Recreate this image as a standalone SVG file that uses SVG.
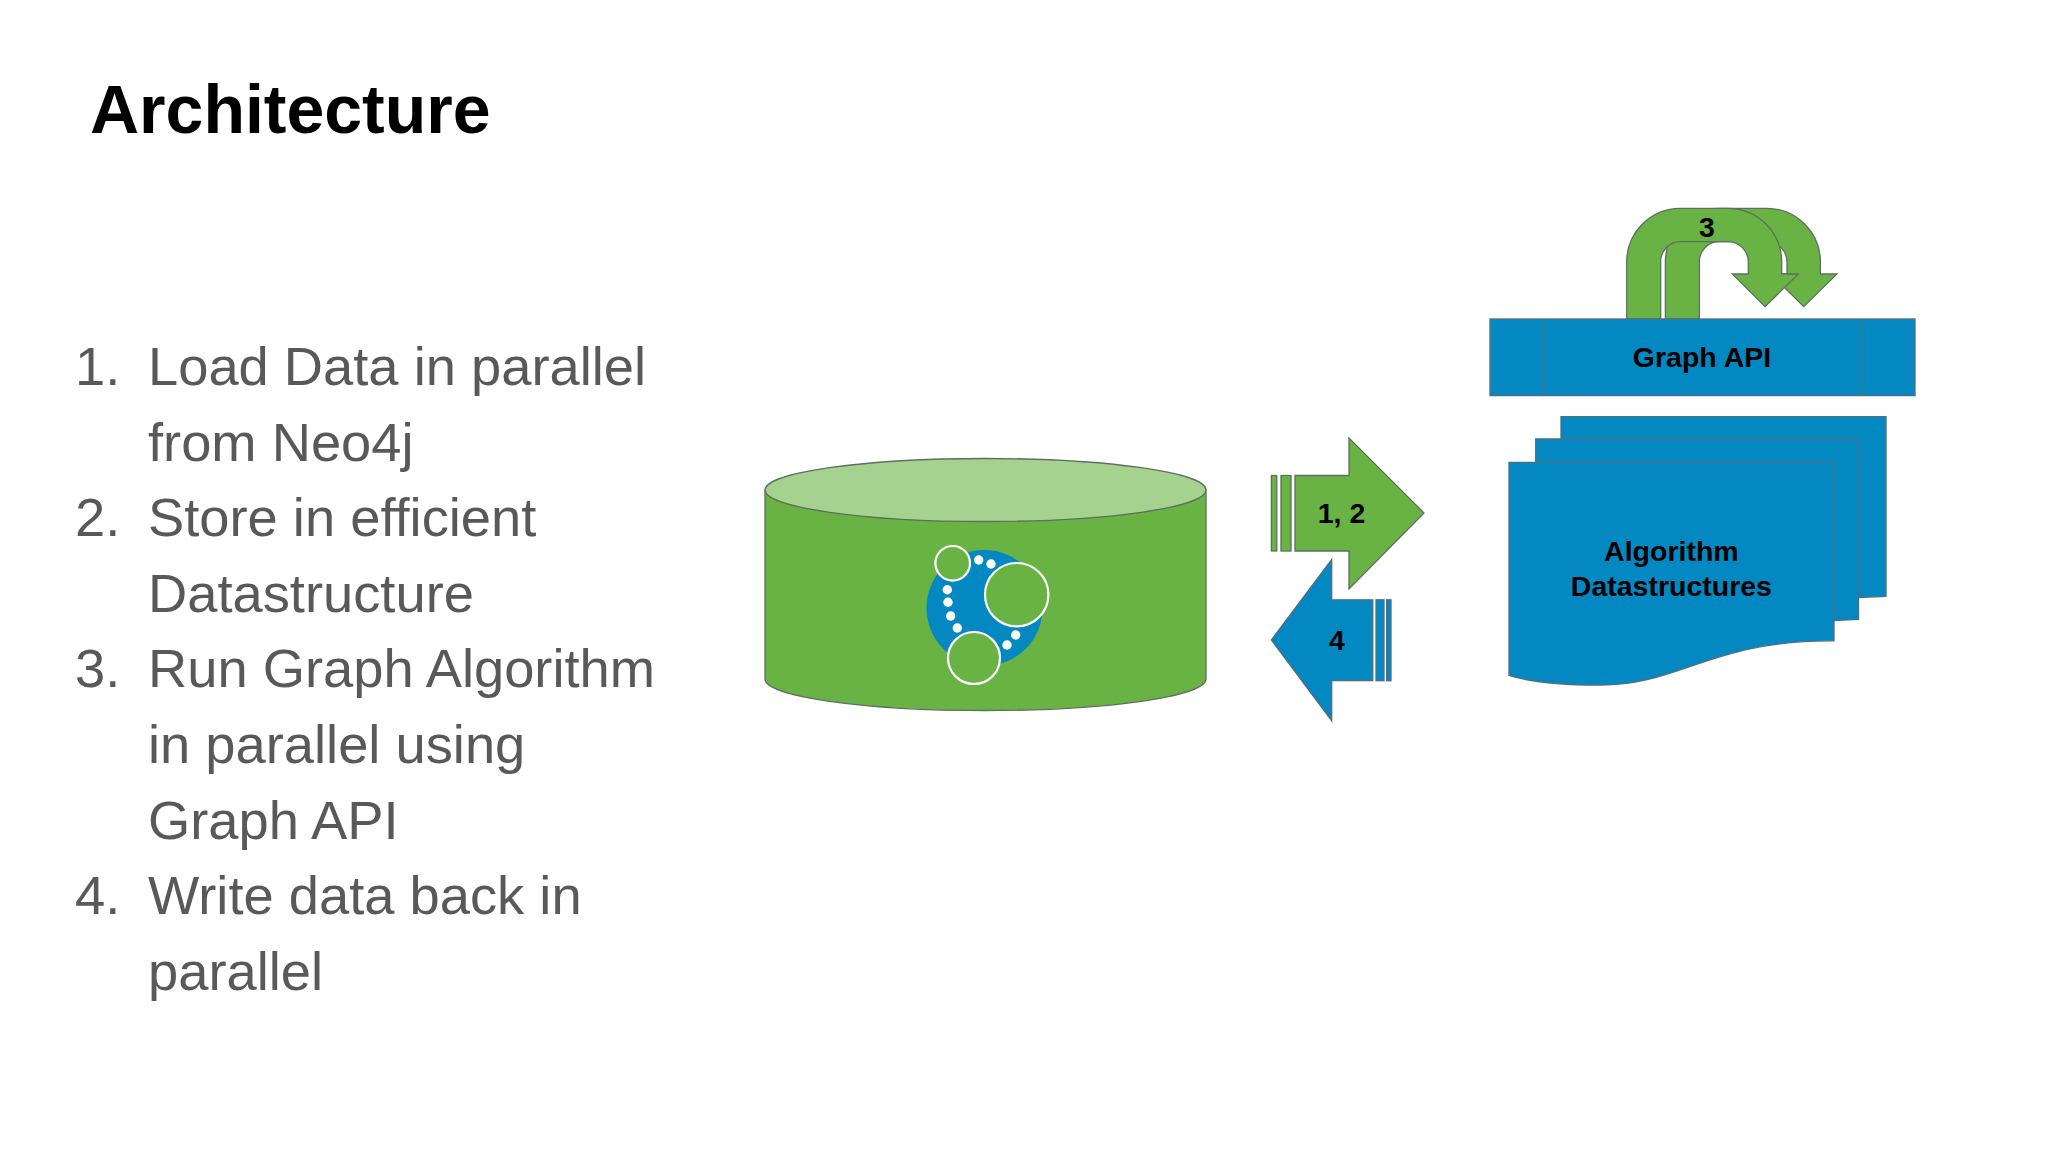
<svg xmlns="http://www.w3.org/2000/svg" xmlns:xlink="http://www.w3.org/1999/xlink" width="2048" height="1152" viewBox="0 0 2048 1152">
<style>
.t{font-family:"Liberation Sans",Arial,sans-serif}
.title{font-size:68px;font-weight:700;fill:#000}
.li{font-size:54.3px;fill:#595959}
.lb{font-size:28.5px;font-weight:700;fill:#000;text-anchor:middle}
.g{fill:#69b345;stroke:#5f6f5f;stroke-width:1.3}
.b{fill:#0388c2;stroke:#4f6f7f;stroke-width:1.3}
.gn{fill:#69b345}
.bn{fill:#0388c2}
.ring{fill:#69b345;stroke:#fff;stroke-width:2.2}
.dot{fill:#fff}
</style>
<defs>
<path id="uturn" d="M1626.7 319V262A53.7 53.7 0 0 1 1680.4 208.3H1728A53.7 53.7 0 0 1 1781.7 262V274H1798.3L1765 306.7L1732.3 274H1748.3V262A20.3 20.3 0 0 0 1728 241.7H1680.4A19.7 19.7 0 0 0 1660.7 262V319Z"/>
</defs>
<rect width="2048" height="1152" fill="#fff"/>
<text class="t title" x="90" y="133">Architecture</text>
<g id="list" class="t li">
<text x="75" y="385">1.</text><text x="148" y="385">Load Data in parallel</text>
<text x="148" y="460.6">from Neo4j</text>
<text x="75" y="536.2">2.</text><text x="148" y="536.2">Store in efficient</text>
<text x="148" y="611.8">Datastructure</text>
<text x="75" y="687.4">3.</text><text x="148" y="687.4">Run Graph Algorithm</text>
<text x="148" y="763">in parallel using</text>
<text x="148" y="838.6">Graph API</text>
<text x="75" y="914.2">4.</text><text x="148" y="914.2">Write data back in</text>
<text x="148" y="989.8">parallel</text>
</g>
<g id="database">
<path class="g" d="M765 490V679A220.5 31.5 0 0 0 1206 679V490Z"/>
<ellipse cx="985.5" cy="490" rx="220.5" ry="31.5" fill="#a5d28f" stroke="#5f6f5f" stroke-width="1.3"/>
<g id="logo">
<circle class="bn" cx="984.5" cy="608" r="58"/>
<circle class="ring" cx="952.7" cy="563.3" r="17.3"/>
<circle class="ring" cx="1016.7" cy="594.7" r="31.7"/>
<circle class="ring" cx="974" cy="658" r="26"/>
<g class="dot">
<circle cx="978.7" cy="560" r="4.7"/><circle cx="991" cy="564" r="4.7"/>
<circle cx="947.3" cy="589.7" r="4.7"/><circle cx="948" cy="602.3" r="4.7"/>
<circle cx="950.7" cy="616" r="4.7"/><circle cx="957.3" cy="628" r="4.7"/>
<circle cx="1007" cy="645" r="4.7"/><circle cx="1015.7" cy="635" r="4.7"/>
</g>
</g>
</g>
<g id="connectors">
<g id="arrow-1-2" class="g" stroke-width="1">
<rect x="1271.4" y="475.5" width="5.4" height="75.5"/>
<rect x="1281" y="475.5" width="10" height="75.5"/>
<path d="M1295 475.5H1349V438L1424 513L1349 589V551H1295Z"/>
</g>
<g id="arrow-4" class="b" stroke-width="1">
<path d="M1271.4 640L1331.7 559.5V599.8H1372.8V680.7H1331.7V720.7Z"/>
<rect x="1376" y="599.8" width="8" height="80.9"/>
<rect x="1386.6" y="599.8" width="4.4" height="80.9"/>
</g>
<g id="arrow-3">
<use xlink:href="#uturn" href="#uturn" class="g" transform="translate(38.7 0)"/>
<use xlink:href="#uturn" href="#uturn" class="g"/>
</g>
</g>
<g id="graph-api">
<rect class="b" x="1490" y="319" width="425" height="76.6"/>
<path d="M1543.3 319V395.6M1861.6 319V395.6" stroke="#4f6f7f" stroke-width="1.3" fill="none"/>
<text class="t lb" x="1702" y="367.3">Graph API</text>
</g>
<g id="algorithm-datastructures">
<path class="b" d="M1561 416.6H1886V596.3L1800 600H1561Z"/>
<path class="b" d="M1535.7 439H1858.5V619.4L1780 623H1535.7Z"/>
<path class="b" d="M1509 462.4H1834V640.8C1710 640 1680 686 1598 685C1560 685 1530 682 1509 675.5Z"/>
<text class="t lb" x="1671.4" y="561">Algorithm</text>
<text class="t lb" x="1671.4" y="596">Datastructures</text>
</g>
<text class="t lb" x="1341.5" y="523.3">1, 2</text>
<text class="t lb" x="1337" y="649.7">4</text>
<text class="t lb" x="1707" y="236.7">3</text>
</svg>
